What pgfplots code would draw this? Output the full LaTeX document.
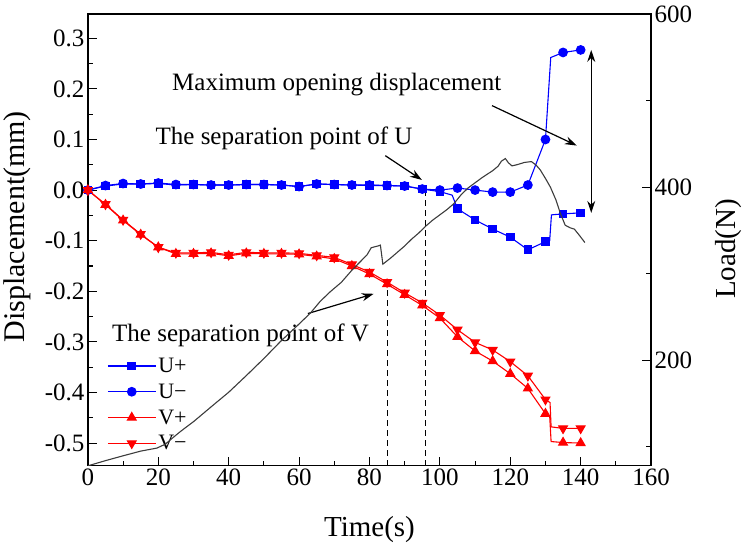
\documentclass[border=0pt]{standalone}
\usepackage{fontspec}
\setmainfont{Liberation Serif}
\usepackage{pgfplots}
\pgfplotsset{compat=1.18}
\usetikzlibrary{arrows.meta}
\definecolor{loadgray}{RGB}{60,60,60}
\pgfdeclareplotmark{dtri*}{%
  \pgfpathmoveto{\pgfpoint{0pt}{-\pgfplotmarksize}}%
  \pgfpathlineto{\pgfpoint{0.866*\pgfplotmarksize}{0.5*\pgfplotmarksize}}%
  \pgfpathlineto{\pgfpoint{-0.866*\pgfplotmarksize}{0.5*\pgfplotmarksize}}%
  \pgfpathclose\pgfusepathqfillstroke}
\begin{document}
\begin{tikzpicture}
\pgfplotsset{
  base/.style={
    scale only axis, width=563.4pt, height=452pt,
    xmin=0, xmax=160,
    tick align=inside,
    major tick length=9pt, minor tick length=5pt,
    every tick/.style={black, line width=1.1pt},
    axis line style={line width=1.3pt},
    tick label style={font=\fontsize{25}{28}\selectfont},
    /pgf/number format/assume math mode=true,
  }
}
\begin{axis}[base,
  ymin=-0.545, ymax=0.348,
  xtick={0,20,40,60,80,100,120,140,160},
  minor xtick={10,30,50,70,90,110,130,150},
  ytick={-0.5,-0.4,-0.3,-0.2,-0.1,0,0.1,0.2,0.3},
  yticklabels={-0.5,-0.4,-0.3,-0.2,-0.1,0.0,0.1,0.2,0.3},
  minor ytick={-0.45,-0.35,-0.25,-0.15,-0.05,0.05,0.15,0.25},
  xtick pos=bottom, ytick pos=left,
  xlabel={Time(s)},
  ylabel={Displacement(mm)},
  every axis x label/.style={at={(axis description cs:0.5,-0.142)}, anchor=center, font=\fontsize{29}{32}\selectfont},
  every axis y label/.style={at={(axis description cs:-0.126,0.529)}, rotate=90, anchor=center, font=\fontsize{30}{33}\selectfont},
  clip=false,
  legend cell align=left,
  legend style={draw=none, fill=none, at={(axis description cs:0.034,0.25)}, anchor=north west,
    font=\fontsize{22}{25}\selectfont, row sep=0pt, inner sep=0pt,
    nodes={minimum height=25.8pt, inner ysep=0pt}},
]
% U+
\addplot[blue, line width=1.1pt, mark=square*, mark size=3.8pt,
  mark indices={1,2,3,4,5,6,7,8,9,10,11,12,13,14,15,16,17,18,19,20,21,23,24,25,26,27,28,31,32},
  legend image code/.code={\draw[blue, line width=1.1pt] (0pt,0pt) -- (48pt,0pt); \fill[blue] (20.2pt,-3.8pt) rectangle (27.8pt,3.8pt);}]
  table {
t d
0 0.000
5 0.008
10 0.012
15 0.012
20 0.013
25 0.010
30 0.011
35 0.010
40 0.010
45 0.011
50 0.011
55 0.010
60 0.007
65 0.012
70 0.011
75 0.010
80 0.009
85 0.009
90 0.008
95 0.002
100 -0.003
103.5 -0.010
105 -0.037
110 -0.059
115 -0.077
120 -0.093
125 -0.118
130 -0.102
131.2 -0.100
131.7 -0.049
135 -0.047
140 -0.045
};
\addlegendentry{U+}
% U-
\addplot[blue, line width=1.1pt, mark=*, mark size=4.3pt,
  mark indices={1,2,3,4,5,6,7,8,9,10,11,12,13,14,15,16,17,18,19,20,21,22,23,24,25,26,27,29,30},
  legend image code/.code={\draw[blue, line width=1.1pt] (0pt,0pt) -- (48pt,0pt); \fill[blue] (24pt,0pt) circle (4.3pt);}]
  table {
t d
0 0.000
5 0.009
10 0.013
15 0.012
20 0.014
25 0.011
30 0.011
35 0.010
40 0.010
45 0.011
50 0.011
55 0.010
60 0.007
65 0.012
70 0.011
75 0.010
80 0.010
85 0.009
90 0.008
95 0.002
100 0.000
105 0.004
110 0.000
115 -0.004
120 -0.004
125 0.010
130 0.100
131.5 0.262
135 0.272
140 0.277
};
\addlegendentry{U−}
% V+
\addplot[red, line width=1.1pt, mark=triangle*, mark size=5pt,
  mark indices={1,2,3,4,5,6,7,8,9,10,11,12,13,14,15,16,17,18,19,20,21,22,23,24,25,26,27,30,31},
  legend image code/.code={\draw[red, line width=1.1pt] (0pt,0pt) -- (48pt,0pt); \fill[red] (24pt,5pt) -- (19.67pt,-2.5pt) -- (28.33pt,-2.5pt) -- cycle;}]
  table {
t d
0 0.000
5 -0.029
10 -0.060
15 -0.088
20 -0.113
25 -0.126
30 -0.126
35 -0.125
40 -0.130
45 -0.125
50 -0.126
55 -0.126
60 -0.127
65 -0.131
70 -0.136
75 -0.150
80 -0.166
85 -0.186
90 -0.207
95 -0.228
100 -0.253
105 -0.290
110 -0.318
115 -0.338
120 -0.363
125 -0.392
130 -0.442
131.2 -0.447
131.6 -0.497
135 -0.499
140 -0.500
};
\addlegendentry{V+}
% V-
\addplot[red, line width=1.1pt, mark=dtri*, mark size=5pt,
  mark indices={1,2,3,4,5,6,7,8,9,10,11,12,13,14,15,16,17,18,19,20,21,22,23,24,25,26,27,30,31},
  legend image code/.code={\draw[red, line width=1.1pt] (0pt,0pt) -- (48pt,0pt); \fill[red] (24pt,-5pt) -- (19.67pt,2.5pt) -- (28.33pt,2.5pt) -- cycle;}]
  table {
t d
0 0.000
5 -0.028
10 -0.059
15 -0.087
20 -0.113
25 -0.124
30 -0.124
35 -0.123
40 -0.128
45 -0.123
50 -0.124
55 -0.124
60 -0.125
65 -0.129
70 -0.133
75 -0.147
80 -0.162
85 -0.182
90 -0.203
95 -0.223
100 -0.247
105 -0.276
110 -0.301
115 -0.316
120 -0.339
125 -0.367
130 -0.414
131.3 -0.420
131.6 -0.468
135 -0.471
140 -0.471
};
\addlegendentry{V−}
% annotations
\draw[black, line width=1.2pt, dash pattern=on 6pt off 4pt] (axis cs:85.1,-0.545) -- (axis cs:85.1,-0.184);
\draw[black, line width=1.2pt, dash pattern=on 6pt off 4pt] (axis cs:95.9,-0.545) -- (axis cs:95.9,-0.003);
\node[anchor=base west, inner sep=0pt, font=\fontsize{25}{28}\selectfont] at (axis cs:23.9,0.197) {Maximum opening displacement};
\node[anchor=base west, inner sep=0pt, font=\fontsize{25}{28}\selectfont] at (axis cs:19.2,0.0896) {The separation point of U};
\node[anchor=base west, inner sep=0pt, font=\fontsize{25}{28}\selectfont] at (axis cs:6.85,-0.299) {The separation point of V};
\draw[line width=1.2pt, -{Stealth[length=12pt,width=8pt]}] (axis cs:114.8,0.167) -- (axis cs:138.9,0.088);
\draw[line width=1.2pt, -{Stealth[length=12pt,width=8pt]}] (axis cs:84.5,0.068) -- (axis cs:94.9,0.020);
\draw[line width=1.2pt, -{Stealth[length=12pt,width=8pt]}] (axis cs:62.5,-0.244) -- (axis cs:81.2,-0.205);
\draw[line width=1.2pt, {Stealth[length=12pt,width=8pt]}-{Stealth[length=12pt,width=8pt]}] (axis cs:143,0.277) -- (axis cs:143,-0.045);
\coordinate (bbl) at (axis description cs:-0.1555,-0.1969);
\coordinate (btr) at (axis description cs:1.1686,1.031);
\end{axis}
\begin{axis}[base,
  ymin=78, ymax=600,
  axis x line=none, axis y line*=right,
  ytick={200,400,600}, minor ytick={100,300,500},
  ylabel={Load(N)},
  every axis y label/.style={at={(axis description cs:1.138,0.48)}, rotate=90, anchor=center, font=\fontsize{29}{32}\selectfont},
]
\addplot[loadgray, line width=1.1pt, no marks] table {
t L
0 78
5 84
10 89.6
15 95
19.6 98.5
22 103
24 110
26.3 117.7
30 129
35.7 148.5
40 163
45.2 183
50 202
54.7 221.6
59 238
63.2 254.4
66 268
68.9 279.3
72 290
75 304
79.3 321.7
80.5 330
82.4 332
83.1 333
83.8 311
86 318
88 325
90 332
92 340
94 347
96 355
98 362
100 368
102 374
104 381
106 391
108 399
110 405
112 411
113.5 415
115 419
116.5 424
117.5 430
118.6 433
119.5 428
120.5 424.5
122 426
124 428.5
126 429.5
127.3 425.6
128.5 420
130 410
131.4 400
133 385
134.2 370
135.6 356
137 353
138.2 351.5
139.5 345
141.2 336
};
\end{axis}
\path (bbl) rectangle (btr);
\end{tikzpicture}
\end{document}
